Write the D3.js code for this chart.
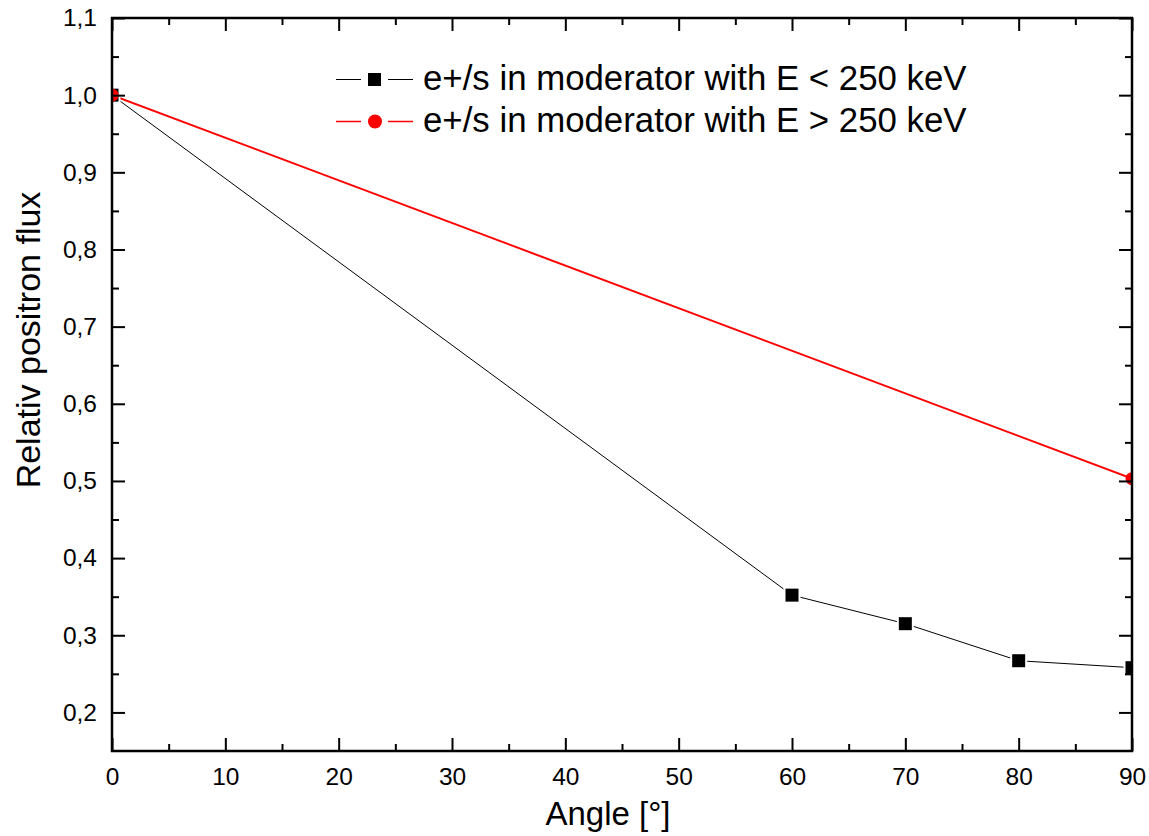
<!DOCTYPE html>
<html>
<head>
<meta charset="utf-8">
<script src="https://cdn.jsdelivr.net/npm/d3@7"></script>
<style>
  body { margin: 0; background: #fff; }
  svg text { font-family: "Liberation Sans", Arial, sans-serif; }
</style>
</head>
<body>
<svg id="svg1" width="1149" height="836"></svg>
<script>
// data
var angles_low = [0, 60, 70, 80, 90];
var flux_low = [1.0, 0.352, 0.315, 0.267, 0.258];
var angles_high = [0, 90];
var flux_high = [1.0, 0.503];
var x_ticks = [0, 10, 20, 30, 40, 50, 60, 70, 80, 90];
var y_ticks = [0.2, 0.3, 0.4, 0.5, 0.6, 0.7, 0.8, 0.9, 1.0, 1.1];
var legend_labels = ["e+/s in moderator with E < 250 keV", "e+/s in moderator with E > 250 keV"];

var m_left = 112, m_right = 1132, m_top = 18, m_bottom = 751;
var svg = d3.select("#svg1");

var x = d3.scaleLinear().domain([0, 90]).range([m_left, m_right]);
var y = d3.scaleLinear().domain([0.15, 1.1]).range([m_bottom, m_top]);

var fmt = function(d){ return d3.format(".1f")(d).replace(".", ","); };

svg.append("clipPath").attr("id", "clip")
  .append("rect").attr("x", m_left).attr("y", m_top).attr("width", m_right - m_left).attr("height", m_bottom - m_top);

var plot = svg.append("g").attr("clip-path", "url(#clip)");

var line = d3.line().x(d => x(d[0])).y(d => y(d[1]));

// red series
plot.append("path")
  .datum(d3.zip(angles_high, flux_high))
  .attr("d", line).attr("fill", "none").attr("stroke", "#ff0000").attr("stroke-width", 2);

// black series
plot.append("path")
  .datum(d3.zip(angles_low, flux_low))
  .attr("d", line).attr("fill", "none").attr("stroke", "#000").attr("stroke-width", 1);

plot.selectAll(".sq").data(d3.zip(angles_low, flux_low)).enter().append("rect")
  .attr("x", d => x(d[0]) - 6.5).attr("y", d => y(d[1]) - 6.5)
  .attr("width", 13).attr("height", 13)
  .attr("fill", "#000").attr("stroke", "#fff").attr("stroke-width", 4).attr("paint-order", "stroke");

plot.selectAll(".ci").data(d3.zip(angles_high, flux_high)).enter().append("circle")
  .attr("cx", d => x(d[0])).attr("cy", d => y(d[1])).attr("r", 6.5)
  .attr("fill", "#ff0000");

// axes (all four sides, ticks inside)
var minorX = d3.range(5, 90, 10);
var minorY = d3.range(0.25, 1.1, 0.1);

function addAxis(axis, transform){
  var g = svg.append("g").attr("transform", transform).call(axis);
  g.select(".domain").remove();
  g.selectAll("line").attr("stroke", "#000").attr("stroke-width", 2);
  return g;
}

addAxis(d3.axisBottom(x).tickValues(x_ticks).tickSize(-13).tickPadding(17).tickFormat(d3.format("d")), `translate(0,${m_bottom})`);
addAxis(d3.axisBottom(x).tickValues(minorX).tickSize(-7).tickFormat(""), `translate(0,${m_bottom})`);
addAxis(d3.axisTop(x).tickValues(x_ticks).tickSize(-13).tickFormat(""), `translate(0,${m_top})`);
addAxis(d3.axisTop(x).tickValues(minorX).tickSize(-7).tickFormat(""), `translate(0,${m_top})`);

addAxis(d3.axisLeft(y).tickValues(y_ticks).tickSize(-13).tickPadding(15).tickFormat(fmt), `translate(${m_left},0)`);
addAxis(d3.axisLeft(y).tickValues(minorY).tickSize(-7).tickFormat(""), `translate(${m_left},0)`);
addAxis(d3.axisRight(y).tickValues(y_ticks).tickSize(-13).tickFormat(""), `translate(${m_right},0)`);
addAxis(d3.axisRight(y).tickValues(minorY).tickSize(-7).tickFormat(""), `translate(${m_right},0)`);

svg.selectAll(".tick text").attr("font-size", 24.5).attr("fill", "#000")
  .attr("font-family", "Liberation Sans, Arial, sans-serif");

// frame
svg.append("rect").attr("x", m_left).attr("y", m_top).attr("width", m_right - m_left).attr("height", m_bottom - m_top)
  .attr("fill", "none").attr("stroke", "#000").attr("stroke-width", 2.5);

// axis titles
svg.append("text").attr("x", 608).attr("y", 825).attr("text-anchor", "middle")
  .attr("font-size", 33).text("Angle [°]");
svg.append("text").attr("transform", "translate(40,340) rotate(-90)")
  .attr("text-anchor", "middle").attr("font-size", 34).text("Relativ positron flux");

// legend
var leg = svg.append("g");
var colors = ["#000", "#ff0000"];
var lw = [1, 1.5];
legend_labels.forEach(function(lab, i){
  var ly = 79.5 + i * 42;
  leg.append("line").attr("x1", 336).attr("x2", 361).attr("y1", ly).attr("y2", ly).attr("stroke", colors[i]).attr("stroke-width", lw[i]);
  leg.append("line").attr("x1", 388).attr("x2", 413).attr("y1", ly).attr("y2", ly).attr("stroke", colors[i]).attr("stroke-width", lw[i]);
  if(i == 0){
    leg.append("rect").attr("x", 368).attr("y", ly - 6.5).attr("width", 13).attr("height", 13).attr("fill", colors[i]);
  }else{
    leg.append("circle").attr("cx", 375).attr("cy", ly).attr("r", 7).attr("fill", colors[i]);
  }
  leg.append("text").attr("x", 423).attr("y", ly + 10.5).attr("font-size", 34.8).text(lab);
});
</script>
</body>
</html>
